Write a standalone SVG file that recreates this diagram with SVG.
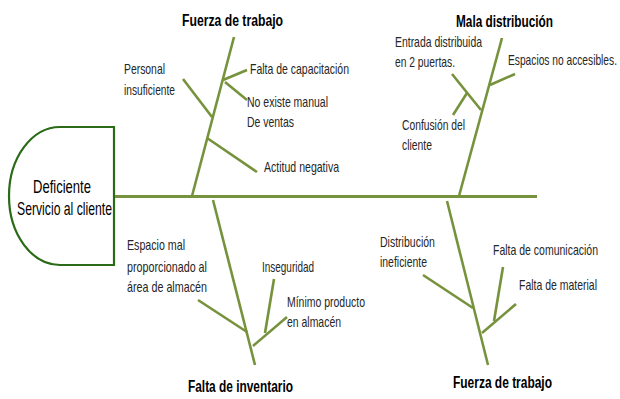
<svg xmlns="http://www.w3.org/2000/svg" width="620" height="399" viewBox="0 0 620 399">
<style>
.bone{stroke:#76923c;stroke-width:2.6;fill:none;stroke-linecap:butt}
.spine{stroke:#76923c;stroke-width:3;fill:none}
.t{font-family:"Liberation Sans",Arial,sans-serif;font-size:14px;fill:#262626}
.h{font-family:"Liberation Sans",Arial,sans-serif;font-size:17px;font-weight:bold;fill:#000}
.hd{font-family:"Liberation Sans",Arial,sans-serif;font-size:18.5px;fill:#000}
</style>
<rect width="620" height="399" fill="#fff"/>
<g id="head">
<path d="M114,127 L60,127 A51,69 0 0 0 60,265 L114,265 Z" fill="#fff" stroke="#2b6a17" stroke-width="2.2"/>
<text class="hd" x="33" y="193" textLength="58" lengthAdjust="spacingAndGlyphs">Deficiente</text>
<text class="hd" x="17" y="215" textLength="95" lengthAdjust="spacingAndGlyphs">Servicio al cliente</text>
</g>
<g id="connectors">
<line class="spine" x1="115" y1="196.5" x2="537" y2="196.5"/>
<line class="bone" x1="192" y1="196" x2="234" y2="37"/>
<line class="bone" x1="223" y1="80" x2="247" y2="70"/>
<line class="bone" x1="225" y1="82" x2="247" y2="100"/>
<line class="bone" x1="183" y1="79" x2="212" y2="117"/>
<line class="bone" x1="207" y1="138" x2="257" y2="172"/>
<line class="bone" x1="459" y1="196" x2="502" y2="38"/>
<line class="bone" x1="490" y1="85" x2="515" y2="74"/>
<line class="bone" x1="452" y1="74" x2="481" y2="110"/>
<line class="bone" x1="467" y1="93" x2="453" y2="115"/>
<line class="bone" x1="213" y1="200" x2="255" y2="365"/>
<line class="bone" x1="198" y1="300" x2="247" y2="332"/>
<line class="bone" x1="253" y1="346" x2="287" y2="317"/>
<line class="bone" x1="274" y1="279" x2="265" y2="333"/>
<line class="bone" x1="447" y1="201" x2="488" y2="365"/>
<line class="bone" x1="423" y1="275" x2="473" y2="308"/>
<line class="bone" x1="482" y1="333" x2="516" y2="304"/>
<line class="bone" x1="503" y1="267" x2="494" y2="321"/>
</g>
<g id="cat-fuerza-top">
<text class="h" transform="scale(0.72,1)" x="252.78" y="26" textLength="140.3" lengthAdjust="spacingAndGlyphs">Fuerza de trabajo</text>
<text class="t" transform="scale(0.74,1)" x="167.57" y="74" textLength="55.4" lengthAdjust="spacingAndGlyphs">Personal</text>
<text class="t" transform="scale(0.74,1)" x="167.57" y="95" textLength="68.9" lengthAdjust="spacingAndGlyphs">insuficiente</text>
<text class="t" transform="scale(0.74,1)" x="337.84" y="74" textLength="133.8" lengthAdjust="spacingAndGlyphs">Falta de capacitación</text>
<text class="t" transform="scale(0.74,1)" x="333.78" y="107" textLength="109.5" lengthAdjust="spacingAndGlyphs">No existe manual</text>
<text class="t" transform="scale(0.74,1)" x="333.78" y="127" textLength="63.5" lengthAdjust="spacingAndGlyphs">De ventas</text>
<text class="t" transform="scale(0.74,1)" x="356.76" y="172" textLength="101.4" lengthAdjust="spacingAndGlyphs">Actitud negativa</text>
</g>
<g id="cat-mala">
<text class="h" transform="scale(0.72,1)" x="633.33" y="27" textLength="134.7" lengthAdjust="spacingAndGlyphs">Mala distribución</text>
<text class="t" transform="scale(0.74,1)" x="533.78" y="47" textLength="117.6" lengthAdjust="spacingAndGlyphs">Entrada distribuida</text>
<text class="t" transform="scale(0.74,1)" x="533.78" y="67" textLength="81.1" lengthAdjust="spacingAndGlyphs">en 2 puertas.</text>
<text class="t" transform="scale(0.74,1)" x="686.49" y="65" textLength="147.3" lengthAdjust="spacingAndGlyphs">Espacios no accesibles.</text>
<text class="t" transform="scale(0.74,1)" x="543.24" y="130" textLength="85.1" lengthAdjust="spacingAndGlyphs">Confusión del</text>
<text class="t" transform="scale(0.74,1)" x="543.24" y="150" textLength="40.5" lengthAdjust="spacingAndGlyphs">cliente</text>
</g>
<g id="cat-inventario">
<text class="h" transform="scale(0.72,1)" x="261.11" y="392" textLength="145.8" lengthAdjust="spacingAndGlyphs">Falta de inventario</text>
<text class="t" transform="scale(0.74,1)" x="171.62" y="250" textLength="78.4" lengthAdjust="spacingAndGlyphs">Espacio mal</text>
<text class="t" transform="scale(0.74,1)" x="171.62" y="272" textLength="108.1" lengthAdjust="spacingAndGlyphs">proporcionado al</text>
<text class="t" transform="scale(0.74,1)" x="171.62" y="292" textLength="108.1" lengthAdjust="spacingAndGlyphs">área de almacén</text>
<text class="t" transform="scale(0.74,1)" x="354.05" y="272" textLength="70.3" lengthAdjust="spacingAndGlyphs">Inseguridad</text>
<text class="t" transform="scale(0.74,1)" x="387.84" y="307" textLength="105.4" lengthAdjust="spacingAndGlyphs">Mínimo producto</text>
<text class="t" transform="scale(0.74,1)" x="387.84" y="327" textLength="73" lengthAdjust="spacingAndGlyphs">en almacén</text>
</g>
<g id="cat-fuerza-bottom">
<text class="h" transform="scale(0.72,1)" x="629.17" y="388" textLength="137.5" lengthAdjust="spacingAndGlyphs">Fuerza de trabajo</text>
<text class="t" transform="scale(0.74,1)" x="513.51" y="247" textLength="74.3" lengthAdjust="spacingAndGlyphs">Distribución</text>
<text class="t" transform="scale(0.74,1)" x="513.51" y="267" textLength="63.5" lengthAdjust="spacingAndGlyphs">ineficiente</text>
<text class="t" transform="scale(0.74,1)" x="666.22" y="255" textLength="141.9" lengthAdjust="spacingAndGlyphs">Falta de comunicación</text>
<text class="t" transform="scale(0.74,1)" x="701.35" y="290" textLength="105.4" lengthAdjust="spacingAndGlyphs">Falta de material</text>
</g>
</svg>
